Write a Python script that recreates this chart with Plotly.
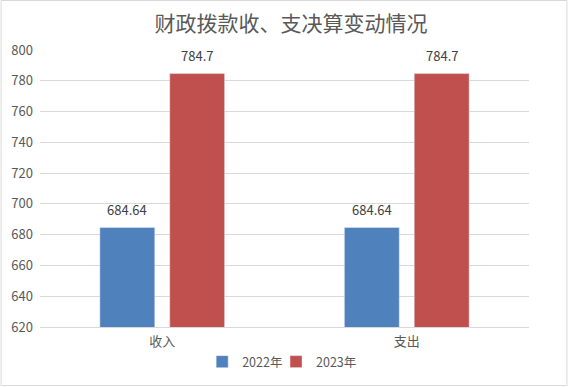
import plotly.graph_objects as go

categories = ["收入", "支出"]
series_names = ["2022年", "2023年"]
values_2022 = [684.64, 684.64]
values_2023 = [784.7, 784.7]
label_2022 = ["684.64", "684.64"]
label_2023 = ["784.7", "784.7"]
y_ticks = [620, 640, 660, 680, 700, 720, 740, 760, 780, 800]

W, H = 569, 387
ml, mr, mt, mb = 39.5, 39.5, 50, 60
pw, ph = W - ml - mr, H - mt - mb

font = "Noto Sans CJK SC, Microsoft YaHei, sans-serif"
colors = ["#4F81BD", "#C0504D"]

fig = go.Figure()
fig.add_trace(go.Bar(x=categories, y=values_2022, name=series_names[0],
                     marker_color=colors[0], legend="legend"))
fig.add_trace(go.Bar(x=categories, y=values_2023, name=series_names[1],
                     marker_color=colors[1], legend="legend2"))

annotations = []
for vals, labs, shift in ((values_2022, label_2022, -35), (values_2023, label_2023, 35)):
    for c, v, t in zip(categories, vals, labs):
        annotations.append(dict(x=c, y=v, text=t, showarrow=False, xshift=shift,
                                yshift=18, yanchor="middle",
                                font=dict(size=13, color="#404040", family=font)))

leg_common = dict(orientation="h", y=-(362 - 327) / ph, yanchor="middle",
                  xanchor="left", font=dict(size=12.5, color="#595959"),
                  itemwidth=30, bgcolor="rgba(0,0,0,0)")

fig.update_layout(
    width=W, height=H,
    margin=dict(l=ml, r=mr, t=mt, b=mb, autoexpand=False),
    paper_bgcolor="white", plot_bgcolor="white",
    font=dict(family=font, size=12, color="#595959"),
    barmode="group", bargap=0.4286, bargroupgap=0.214,
    title=dict(text="财政拨款收、支决算变动情况", x=291 / W, xanchor="center",
               y=1 - 24 / H, yanchor="middle",
               font=dict(size=21, color="#595959", family=font)),
    showlegend=True,
    legend=dict(x=(202 - ml) / pw, **leg_common),
    legend2=dict(x=(276 - ml) / pw, **leg_common),
    xaxis=dict(showgrid=False, showline=True, linecolor="#D9D9D9", linewidth=1,
               ticks="", ticklabelstandoff=2, tickfont=dict(size=13, color="#595959")),
    yaxis=dict(range=[620, 800], tickvals=y_ticks, showgrid=True, gridcolor="#D9D9D9",
               gridwidth=1, zeroline=False, showline=False, ticks="",
               ticklabelstandoff=6, tickfont=dict(size=13, color="#595959")),
    annotations=annotations,
    shapes=[dict(type="rect", xref="paper", yref="paper",
                 x0=-(ml - 0.5) / pw, x1=1 + (mr - 1.5) / pw,
                 y0=-(mb - 1.5) / ph, y1=1 + (mt - 0.5) / ph,
                 line=dict(color="#D9D9D9", width=1), fillcolor="rgba(0,0,0,0)",
                 layer="below")],
)

fig.write_html("out.html", config={"displayModeBar": False},
               post_script="document.body.style.margin='0';document.body.style.overflow='hidden';")
